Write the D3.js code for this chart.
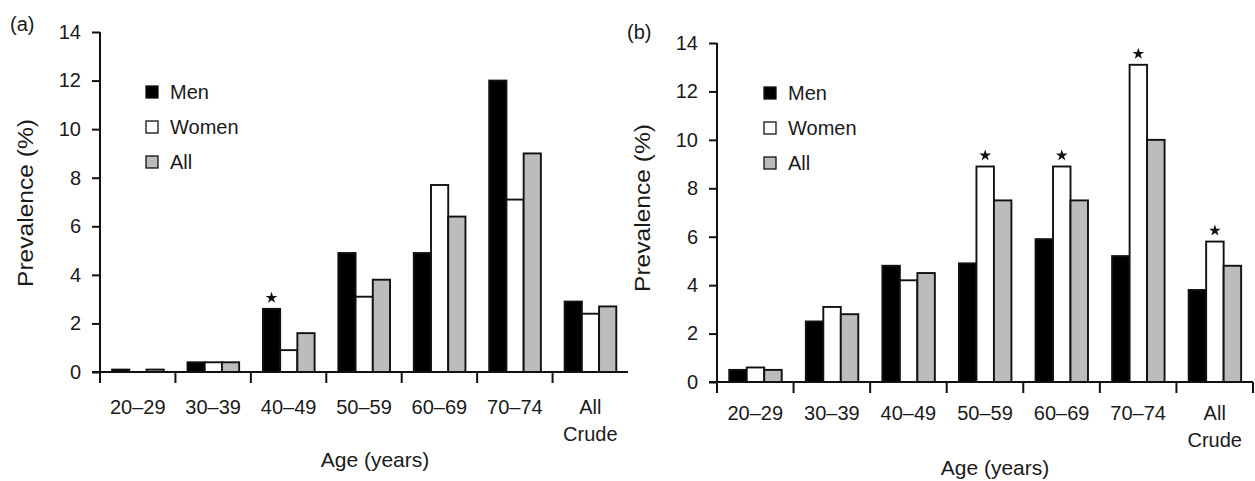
<!DOCTYPE html>
<html>
<head>
<meta charset="utf-8">
<script src="https://cdn.jsdelivr.net/npm/d3@7/dist/d3.min.js"></script>
<style>
  html, body { margin: 0; padding: 0; background: #fff; }
  svg { display: block; }
  text { font-family: "Liberation Sans", Arial, sans-serif; fill: #1a1a1a; }
</style>
</head>
<body>
<svg id="chart" width="1255" height="481"></svg>
<script>
// ---- data ----
const categories = ["20–29", "30–39", "40–49", "50–59", "60–69", "70–74", "All\nCrude"];
const seriesNames = ["Men", "Women", "All"];
const yTicks = [0, 2, 4, 6, 8, 10, 12, 14];

const menA   = [0.1, 0.4, 2.6, 4.9, 4.9, 12.0, 2.9];
const womenA = [0.0, 0.4, 0.9, 3.1, 7.7, 7.1, 2.4];
const allA   = [0.1, 0.4, 1.6, 3.8, 6.4, 9.0, 2.7];
const starsA = [{ cat: 2, series: 0 }];

const menB   = [0.5, 2.5, 4.8, 4.9, 5.9, 5.2, 3.8];
const womenB = [0.6, 3.1, 4.2, 8.9, 8.9, 13.1, 5.8];
const allB   = [0.5, 2.8, 4.5, 7.5, 7.5, 10.0, 4.8];
const starsB = [{ cat: 3, series: 1 }, { cat: 4, series: 1 }, { cat: 5, series: 1 }, { cat: 6, series: 1 }];

const fills = ["#000000", "#ffffff", "#bcbcbc"];

const svg = d3.select("#chart");

function panel(cfg) {
  const { label, labelPos, x0, x1, yBase, yTop, men, women, all, stars, endTick, legendX, legendY, yTitle, xTitle, tickLabelDy } = cfg;
  const g = svg.append("g");
  const x = d3.scaleBand().domain(d3.range(categories.length)).range([x0, x1]).paddingInner(0).paddingOuter(0);
  const bw = x.bandwidth();
  const xs = d3.scaleBand().domain(d3.range(3)).range([bw * 0.16, bw * 0.845]).padding(0);
  const y = d3.scaleLinear().domain([0, 14]).range([yBase, yTop]);
  const series = [men, women, all];

  // bars
  series.forEach((vals, si) => {
    g.append("g").selectAll("rect").data(vals).join("rect")
      .attr("x", (d, i) => x(i) + xs(si))
      .attr("y", d => y(d))
      .attr("width", xs.bandwidth())
      .attr("height", d => yBase - y(d))
      .attr("fill", fills[si])
      .attr("stroke", "#111")
      .attr("stroke-width", 1.9);
  });

  // stars
  g.append("g").selectAll("path").data(stars).join("path")
    .attr("d", d3.symbol(d3.symbolStar, 42))
    .attr("transform", d => {
      const v = series[d.series][d.cat];
      return `translate(${x(d.cat) + xs(d.series) + xs.bandwidth() / 2},${y(v) - 11})`;
    })
    .attr("fill", "#111");

  // y axis
  const yAxis = d3.axisLeft(y).tickValues(yTicks).tickSize(8).tickSizeOuter(0).tickPadding(11);
  const ya = g.append("g").attr("transform", `translate(${x0},0)`).call(yAxis);
  ya.select(".domain").remove();
  ya.selectAll(".tick line").attr("stroke", "#111").attr("stroke-width", 2);
  ya.selectAll(".tick text").attr("font-size", 20).attr("font-family", "Liberation Sans, Arial, sans-serif").attr("fill", "#1a1a1a");
  g.append("line").attr("x1", x0).attr("x2", x0).attr("y1", y(14)).attr("y2", yBase + 11)
    .attr("stroke", "#111").attr("stroke-width", 2);

  // x axis baseline
  g.append("line").attr("x1", x0 - 8).attr("x2", x1).attr("y1", yBase).attr("y2", yBase)
    .attr("stroke", "#111").attr("stroke-width", 2);
  const bounds = d3.range(1, endTick ? categories.length + 1 : categories.length);
  g.append("g").selectAll("line").data(bounds).join("line")
    .attr("x1", i => i < categories.length ? x(i) : x1)
    .attr("x2", i => i < categories.length ? x(i) : x1)
    .attr("y1", yBase).attr("y2", yBase + 11)
    .attr("stroke", "#111").attr("stroke-width", 2);

  // x tick labels
  const xl = g.append("g").selectAll("text").data(categories).join("text")
    .attr("text-anchor", "middle")
    .attr("font-size", 20)
    .attr("transform", (d, i) => `translate(${x(i) + bw / 2},${yBase + tickLabelDy})`);
  xl.selectAll("tspan").data(d => d.split("\n")).join("tspan")
    .attr("x", 0).attr("dy", (d, i) => i === 0 ? 0 : 27).text(d => d);

  // axis titles
  g.append("text").attr("text-anchor", "middle").attr("font-size", 22)
    .attr("transform", `translate(${yTitle[0]},${yTitle[1]}) rotate(-90)`)
    .attr("dy", "0.35em").attr("textLength", 168).attr("lengthAdjust", "spacingAndGlyphs")
    .text("Prevalence (%)");
  g.append("text").attr("text-anchor", "middle").attr("font-size", 21)
    .attr("x", xTitle[0]).attr("y", xTitle[1]).text("Age (years)");

  // panel label
  g.append("text").attr("font-size", 20).attr("x", labelPos[0]).attr("y", labelPos[1]).text(label);

  // legend
  const lg = g.append("g").attr("transform", `translate(${legendX},${legendY})`);
  seriesNames.forEach((n, i) => {
    const row = lg.append("g").attr("transform", `translate(0,${i * 35})`);
    row.append("rect").attr("x", 0).attr("y", -6).attr("width", 12).attr("height", 12)
      .attr("fill", fills[i]).attr("stroke", "#111").attr("stroke-width", 1.3);
    row.append("text").attr("x", 24).attr("y", 0).attr("dy", "0.36em").attr("font-size", 20).text(n);
  });
}

panel({
  label: "(a)", labelPos: [10, 31],
  x0: 100, x1: 628, yBase: 372, yTop: 32,
  men: menA, women: womenA, all: allA, stars: starsA, endTick: false,
  legendX: 146, legendY: 92, yTitle: [25, 203], xTitle: [375, 467], tickLabelDy: 42
});
panel({
  label: "(b)", labelPos: [627, 39],
  x0: 717, x1: 1253, yBase: 382, yTop: 43,
  men: menB, women: womenB, all: allB, stars: starsB, endTick: true,
  legendX: 764, legendY: 93, yTitle: [642, 208], xTitle: [995, 475], tickLabelDy: 38
});
</script>
</body>
</html>
